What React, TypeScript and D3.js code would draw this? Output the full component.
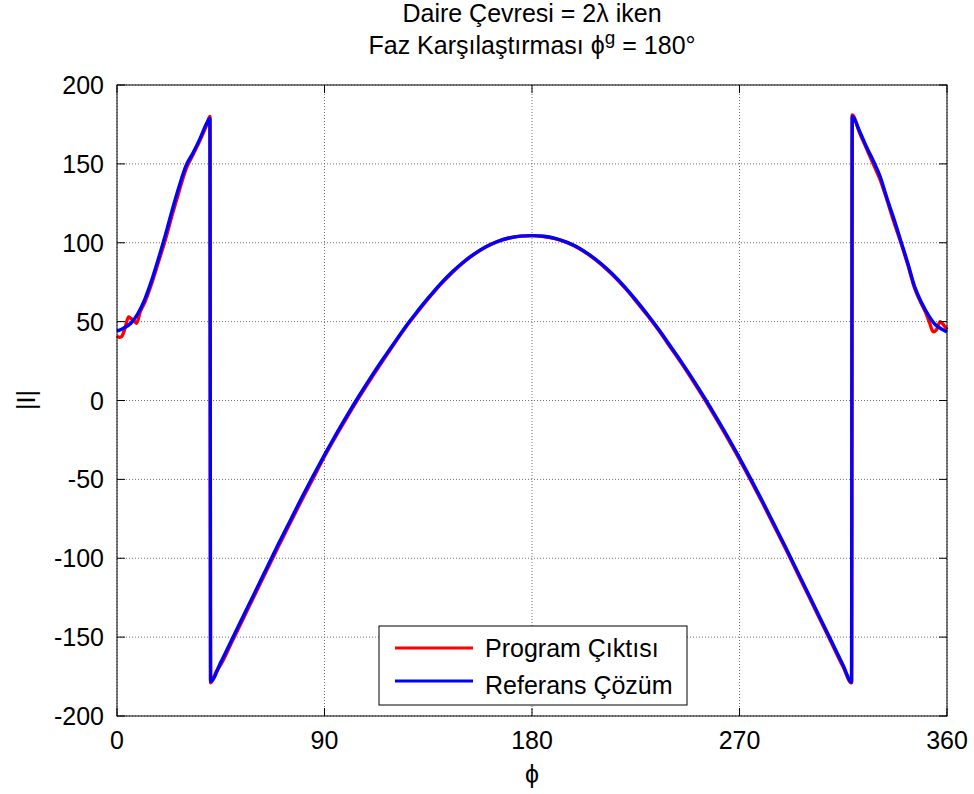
import React from "react";
import * as d3 from "d3";

// ---- data ----
const refPhi = [0,3,6,9,12,15,18,21,24,27,30,33,36,39,40.3,40.6,45,50,55,60,65,70,75,80,85,90,95,100,105,110,115,120,125,130,135,140,145,150,155,160,165,170,175,180,185,190,195,200,205,210,215,220,225,230,235,240,245,250,255,260,265,270,275,280,285,290,295,300,305,310,315,318.6,318.9,322,325,328,331,334,337,340,343,346,349,352,355,358,360];
const refVal = [44,46,49,55,64,76,90,105,121,136,149,157,166,176,179,-178,-166,-151,-136,-121,-106,-91,-76.5,-62,-48,-34.5,-21.5,-9,3,14.5,25.5,36,46.5,56,65,73.5,81,87.5,93,97.5,100.8,103,104.2,104.5,104.1,102.8,100.4,97,92.3,86.7,80,72.3,63.8,54.7,45,34.5,24,12.9,1.3,-10.8,-23.3,-36.4,-50,-64,-78.5,-93,-108,-123,-138,-153,-168,-178.5,180,171,161,152,142,128,115,101,87,72,62,54,48,45,43.5];

const progPhi = [0,1,2,3.5,5,6,7,8.5,10,12,15,18,21,24,27,30,33,36,39,40.3,40.6,43,45,50,55,60,65,70,75,80,85,90,95,100,105,110,115,120,125,130,135,140,145,150,155,160,165,170,175,180,185,190,195,200,205,210,215,220,225,230,235,240,245,250,255,260,265,270,275,280,285,290,295,300,305,310,315,318.6,318.9,322,325,328,331,334,337,340,343,346,349,351,352.5,354,355.5,357,358.5,360];
const progVal = [41,40,40.5,46,53,52,51,49,56,62,74,88,102,118,133,147,156,165,175,180,-179,-172,-167.5,-152.5,-137.5,-122.5,-107.5,-92.5,-78,-63.5,-49.5,-35.5,-22.5,-10,2,13.5,24.5,35.5,46,55.5,64.5,73,80.5,87.2,92.8,97.3,100.7,103,104.2,104.5,104,102.6,100.2,96.7,92,86.3,79.5,71.8,63.2,54,44.3,33.8,23.2,12,0.4,-11.8,-24.3,-37.4,-51,-65,-79.5,-94,-109,-124,-139,-154,-169,-179,181,170,160,150,140,127,113,100,86,71,61,55,49,43.5,45,50,48,45];

const xTicks = [0, 90, 180, 270, 360];
const yTicks = [-200, -150, -100, -50, 0, 50, 100, 150, 200];

const legendItems = [
  { label: "Program Çıktısı", color: "#ff0000" },
  { label: "Referans Çözüm", color: "#0000ff" },
];

const FONT = "'Liberation Sans', Arial, Helvetica, sans-serif";

export default function App() {
  const W = 974, H = 794;
  const L = 117, R = 947, T = 85, B = 716;
  const x = d3.scaleLinear().domain([0, 360]).range([L, R]);
  const y = d3.scaleLinear().domain([-200, 200]).range([B, T]);

  const line = d3
    .line<[number, number]>()
    .x((d) => x(d[0]))
    .y((d) => y(d[1]))
    .curve(d3.curveMonotoneX);
  const refPath = line(refPhi.map((p, i) => [p, refVal[i]]) as [number, number][]) || "";
  const progPath = line(progPhi.map((p, i) => [p, progVal[i]]) as [number, number][]) || "";

  const tickLen = 8;
  const fs = 25;

  return (
    <svg width={W} height={H} style={{ position: "absolute", left: 0, top: 0, background: "#fff" }} fontFamily={FONT}>
      <rect x={0} y={0} width={W} height={H} fill="#fff" />
      {/* grid */}
      {xTicks.map((t) => (
        <line key={"gx" + t} x1={x(t)} x2={x(t)} y1={T} y2={B} stroke="#6f6f6f" strokeWidth={1} strokeDasharray="1,2" />
      ))}
      {yTicks.map((t) => (
        <line key={"gy" + t} x1={L} x2={R} y1={y(t)} y2={y(t)} stroke="#6f6f6f" strokeWidth={1} strokeDasharray="1,2" />
      ))}
      {/* data */}
      <path d={progPath} fill="none" stroke="#ff0000" strokeWidth={3.4} strokeLinejoin="round" />
      <path d={refPath} fill="none" stroke="#0000ff" strokeWidth={3.4} strokeLinejoin="round" />
      {/* box */}
      <rect x={L} y={T} width={R - L} height={B - T} fill="none" stroke="#000" strokeWidth={1} />
      {/* ticks */}
      {xTicks.map((t) => (
        <g key={"tx" + t}>
          <line x1={x(t)} x2={x(t)} y1={B} y2={B - tickLen} stroke="#000" />
          <line x1={x(t)} x2={x(t)} y1={T} y2={T + tickLen} stroke="#000" />
          <text x={x(t)} y={B + 33} fontSize={fs} textAnchor="middle" fill="#000">{t}</text>
        </g>
      ))}
      {yTicks.map((t) => (
        <g key={"ty" + t}>
          <line x1={L} x2={L + tickLen} y1={y(t)} y2={y(t)} stroke="#000" />
          <line x1={R} x2={R - tickLen} y1={y(t)} y2={y(t)} stroke="#000" />
          <text x={L - 13} y={y(t) + 9} fontSize={fs} textAnchor="end" fill="#000">{t}</text>
        </g>
      ))}
      {/* legend */}
      <g>
        <rect x={379} y={626} width={308} height={79} fill="#fff" stroke="#000" strokeWidth={1} />
        {legendItems.map((it, i) => (
          <g key={it.label}>
            <line x1={395} x2={473} y1={648 + i * 33} y2={648 + i * 33} stroke={it.color} strokeWidth={3} />
            <text x={485} y={657 + i * 37} fontSize={fs} fill="#000">{it.label}</text>
          </g>
        ))}
      </g>
      {/* titles */}
      <text x={532} y={22} fontSize={fs} textAnchor="middle" fill="#000">Daire Çevresi = 2λ iken</text>
      <text x={532} y={54} fontSize={fs} textAnchor="middle" fill="#000">
        Faz Karşılaştırması ϕ<tspan dy={-10} fontSize={19}>g</tspan><tspan dy={10}> = 180°</tspan>
      </text>
      {/* axis labels */}
      <text x={532} y={783} fontSize={fs} textAnchor="middle" fill="#000">ϕ</text>
      <text transform={`translate(35,400) rotate(-90)`} fontSize={fs} textAnchor="middle" fill="#000">|I|</text>
    </svg>
  );
}
